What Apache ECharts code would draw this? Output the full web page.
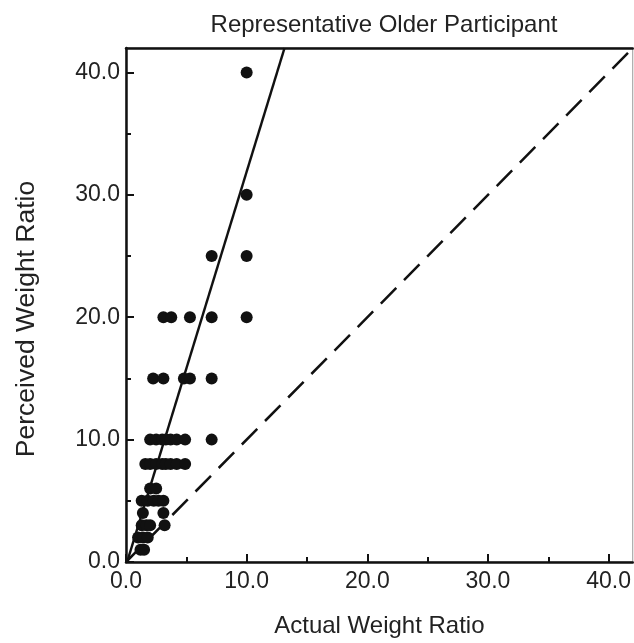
<!DOCTYPE html>
<html>
<head>
<meta charset="utf-8">
<script src="https://cdn.jsdelivr.net/npm/echarts@6/dist/echarts.min.js"></script>
<style>html,body{margin:0;padding:0;background:#fff}#c{width:634px;height:643px}</style>
</head>
<body>
<div id="c"></div>
<script>
// Observations (actual ratio, perceived ratio)
const actualRatio = [
  10,
  10,
  7.1, 10,
  3.1, 3.75, 5.3, 7.1, 10,
  2.25, 3.1, 4.8, 5.3, 7.1,
  2.0, 2.5, 3.0, 3.3, 3.7, 4.2, 4.9, 7.1,
  1.6, 2.0, 2.5, 3.0, 3.3, 3.7, 4.2, 4.9,
  2.0, 2.5,
  1.3, 1.8, 2.3, 2.7, 3.1,
  1.4, 3.1,
  1.3, 1.7, 2.0, 3.2,
  1.0, 1.4, 1.8,
  1.2, 1.5
];
const perceivedRatio = [
  40,
  30,
  25, 25,
  20, 20, 20, 20, 20,
  15, 15, 15, 15, 15,
  10, 10, 10, 10, 10, 10, 10, 10,
  8, 8, 8, 8, 8, 8, 8, 8,
  6, 6,
  5, 5, 5, 5, 5,
  4, 4,
  3, 3, 3, 3,
  2, 2, 2,
  1, 1
];
// Fitted regression line endpoints and identity line endpoints
const fitLineX = [0.09, 13.14];
const fitLineY = [0, 42];
const identityX = [0, 42];
const identityY = [0, 42];
const majorTicks = [0, 10, 20, 30, 40];
const minorTicks = [5, 15, 25, 35];
const axisMax = 42;

const points = actualRatio.map((x, i) => [x, perceivedRatio[i]]);
const fitLine = fitLineX.map((x, i) => [x, fitLineY[i]]);
const identity = identityX.map((x, i) => [x, identityY[i]]);

const FONT = 'Liberation Sans, Arial, sans-serif';
const fmt = v => (v === axisMax ? '' : Number(v).toFixed(1));

const chart = echarts.init(document.getElementById('c'), null, {renderer: 'canvas'});
chart.setOption({
  animation: false,
  backgroundColor: '#fff',
  title: {
    text: 'Representative Older Participant',
    left: 379, top: 8, textAlign: 'center',
    textStyle: {fontFamily: FONT, fontSize: 24, fontWeight: 'normal', color: '#222'}
  },
  grid: {left: 126, right: 1, top: 48, bottom: 81, show: true, borderColor: '#999', borderWidth: 1},
  xAxis: [
    {
      type: 'value', min: 0, max: axisMax, interval: 10,
      name: 'Actual Weight Ratio', nameLocation: 'middle', nameGap: 52,
      nameTextStyle: {fontFamily: FONT, fontSize: 24, color: '#222'},
      axisLine: {show: true, lineStyle: {color: '#111', width: 2.5}},
      axisTick: {show: true, inside: true, length: 8, lineStyle: {color: '#111', width: 2}, customValues: majorTicks},
      axisLabel: {fontFamily: FONT, fontSize: 23, color: '#222', margin: 8, formatter: fmt, customValues: majorTicks},
      splitLine: {show: false}
    },
    {
      type: 'value', min: 0, max: axisMax, position: 'bottom',
      axisLine: {show: false},
      axisTick: {show: true, inside: true, length: 5, lineStyle: {color: '#111', width: 2}, customValues: minorTicks},
      axisLabel: {show: false},
      splitLine: {show: false}
    },
    {
      type: 'value', min: 0, max: axisMax, position: 'top',
      axisLine: {show: true, lineStyle: {color: '#111', width: 2.5}},
      axisTick: {show: false}, axisLabel: {show: false}, splitLine: {show: false}
    }
  ],
  yAxis: [
    {
      type: 'value', min: 0, max: axisMax, interval: 10,
      name: 'Perceived Weight Ratio', nameLocation: 'middle', nameGap: 86,
      nameTextStyle: {fontFamily: FONT, fontSize: 26.5, color: '#222', padding: [0, 28, 0, 0]},
      axisLine: {show: true, lineStyle: {color: '#111', width: 2.5}},
      axisTick: {show: true, inside: true, length: 8, lineStyle: {color: '#111', width: 2}, customValues: majorTicks},
      axisLabel: {fontFamily: FONT, fontSize: 23, color: '#222', margin: 6, formatter: fmt, customValues: majorTicks},
      splitLine: {show: false}
    },
    {
      type: 'value', min: 0, max: axisMax, position: 'left',
      axisLine: {show: false},
      axisTick: {show: true, inside: true, length: 5, lineStyle: {color: '#111', width: 2}, customValues: minorTicks},
      axisLabel: {show: false},
      splitLine: {show: false}
    }
  ],
  series: [
    {
      type: 'line', data: identity, xAxisIndex: 0, yAxisIndex: 0,
      symbol: 'none', lineStyle: {color: '#111', width: 2.5, type: [22, 11]}, z: 2
    },
    {
      type: 'line', data: fitLine, xAxisIndex: 0, yAxisIndex: 0,
      symbol: 'none', lineStyle: {color: '#111', width: 2.5}, z: 3, clip: true
    },
    {
      type: 'scatter', data: points, xAxisIndex: 0, yAxisIndex: 0,
      symbol: 'circle', symbolSize: 12, itemStyle: {color: '#111', opacity: 1}, z: 4
    }
  ]
});
</script>
</body>
</html>
